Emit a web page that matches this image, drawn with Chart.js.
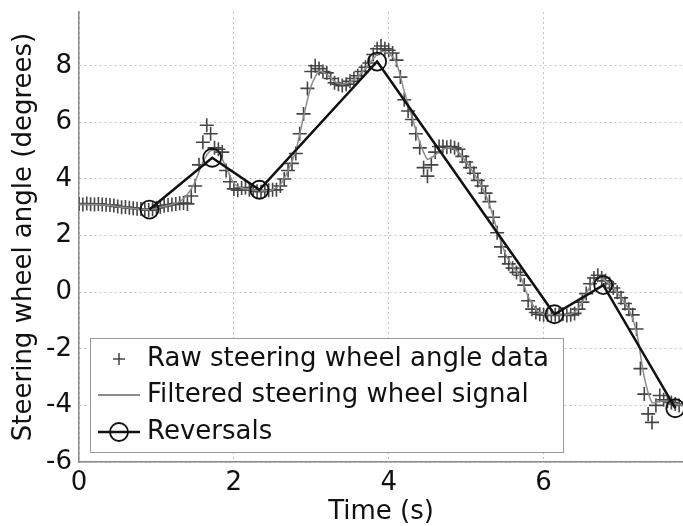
<!DOCTYPE html>
<html><head><meta charset="utf-8">
<script src="https://cdn.jsdelivr.net/npm/chart.js@4.4.0/dist/chart.umd.min.js"></script>
<style>html,body{margin:0;padding:0;background:#fff;overflow:hidden}</style>
</head><body>
<canvas id="c" width="683" height="526" style="display:block;width:683px;height:526px"></canvas>
<script>
const seriesLabels = ['Raw steering wheel angle data', 'Filtered steering wheel signal', 'Reversals'];
const xTitle = 'Time (s)';
const yTitle = 'Steering wheel angle (degrees)';
const xTicks = [0, 2, 4, 6];
const yTicks = [-6, -4, -2, 0, 2, 4, 6, 8];

const rawTime = [0,0.05,0.1,0.15,0.2,0.25,0.3,0.35,0.4,0.45,0.5,0.55,0.6,0.65,0.7,0.75,0.8,0.85,0.9,0.95,
  1.0,1.05,1.1,1.15,1.2,1.25,1.3,1.35,1.4,1.45,1.5,1.55,1.6,1.65,1.7,1.75,1.8,1.85,1.9,1.95,
  2.0,2.05,2.1,2.15,2.2,2.25,2.3,2.35,2.4,2.45,2.5,2.55,2.6,2.65,2.7,2.75,2.8,2.85,2.9,2.95,
  3.0,3.05,3.1,3.15,3.2,3.25,3.3,3.35,3.4,3.45,3.5,3.55,3.6,3.65,3.7,3.75,3.8,3.85,3.9,3.95,
  4.0,4.05,4.1,4.15,4.2,4.25,4.3,4.35,4.4,4.45,4.5,4.55,4.6,4.65,4.7,4.75,4.8,4.85,4.9,4.95,
  5.0,5.05,5.1,5.15,5.2,5.25,5.3,5.35,5.4,5.45,5.5,5.55,5.6,5.65,5.7,5.75,5.8,5.85,5.9,5.95,
  6.0,6.05,6.1,6.15,6.2,6.25,6.3,6.35,6.4,6.45,6.5,6.55,6.6,6.65,6.7,6.75,6.8,6.85,6.9,6.95,
  7.0,7.05,7.1,7.15,7.2,7.25,7.3,7.35,7.4,7.45,7.5,7.55,7.6,7.65,7.7,7.75];
const rawAngle = [3.12,3.10,3.13,3.11,3.10,3.12,3.10,3.09,3.08,3.06,3.03,3.00,3.01,2.98,2.97,2.95,2.94,2.92,2.90,2.93,
  2.98,3.02,3.05,3.08,3.10,3.12,3.14,3.15,3.12,3.40,3.75,4.50,5.30,5.90,5.60,5.10,5.05,4.95,4.30,3.90,
  3.65,3.60,3.68,3.70,3.62,3.60,3.57,3.55,3.58,3.60,3.62,3.62,3.75,4.00,4.30,4.55,4.90,5.60,6.30,7.20,
  7.80,8.00,7.90,7.80,7.75,7.55,7.40,7.35,7.30,7.35,7.45,7.55,7.65,7.80,7.95,8.10,8.40,8.60,8.70,8.60,
  8.55,8.45,8.20,7.60,6.80,6.40,6.10,5.60,5.10,4.40,4.10,4.50,4.95,5.15,5.15,5.12,5.15,5.10,5.05,4.80,
  4.60,4.40,4.20,3.95,3.75,3.50,3.20,2.65,2.10,1.60,1.25,1.00,0.85,0.70,0.60,0.25,-0.30,-0.60,-0.72,-0.78,
  -0.80,-0.80,-0.82,-0.80,-0.80,-0.78,-0.82,-0.80,-0.75,-0.60,-0.35,-0.05,0.30,0.50,0.60,0.50,0.40,0.30,0.15,0.00,
  -0.20,-0.40,-0.60,-0.80,-1.30,-2.70,-3.60,-4.30,-4.60,-4.00,-3.65,-3.80,-3.85,-3.90,-3.95,-4.00];

const filtTime = [0,0.1,0.2,0.3,0.4,0.5,0.6,0.7,0.8,0.9,1.0,1.1,1.2,1.3,1.4,1.5,1.6,1.7,1.8,1.9,
  2.0,2.1,2.2,2.3,2.4,2.5,2.6,2.7,2.8,2.9,3.0,3.1,3.2,3.3,3.4,3.5,3.6,3.7,3.8,3.9,
  4.0,4.1,4.2,4.3,4.4,4.5,4.6,4.7,4.8,4.9,5.0,5.1,5.2,5.3,5.4,5.5,5.6,5.7,5.8,5.9,
  6.0,6.1,6.2,6.3,6.4,6.5,6.6,6.7,6.8,6.9,7.0,7.1,7.2,7.3,7.4,7.5,7.6,7.7,7.8];
const filtAngle = [3.10,3.10,3.10,3.09,3.07,3.02,2.99,2.96,2.93,2.92,2.96,3.04,3.10,3.20,3.45,3.90,4.60,5.00,4.95,4.40,
  3.85,3.68,3.63,3.60,3.58,3.62,3.80,4.30,5.00,6.20,7.30,7.80,7.70,7.45,7.35,7.42,7.62,7.90,8.25,8.50,
  8.45,8.10,7.10,6.20,5.30,4.70,4.85,5.05,5.10,4.95,4.60,4.20,3.75,3.10,2.20,1.40,0.90,0.55,-0.15,-0.60,
  -0.78,-0.80,-0.80,-0.80,-0.70,-0.35,0.20,0.50,0.40,0.15,-0.20,-0.60,-1.40,-3.00,-3.90,-3.85,-3.85,-3.95,-4.00];

const revTime = [0.91, 1.72, 2.33, 3.85, 6.14, 6.77, 7.70];
const revAngle = [2.92, 4.75, 3.62, 8.15, -0.78, 0.25, -4.10];

const FONT = 'DejaVu Sans';
Chart.defaults.font.family = FONT;
Chart.defaults.color = '#111';

const toPts = (xs, ys) => xs.map((x, i) => ({x: x, y: ys[i]}));

const legendPlugin = {
  id: 'boxLegend',
  afterDraw(chart) {
    const ctx = chart.ctx;
    const ds = chart.data.datasets;
    const bx = 90, by = 338, bw = 473, bh = 114;
    ctx.save();
    ctx.fillStyle = '#fff';
    ctx.fillRect(bx, by, bw, bh);
    ctx.strokeStyle = '#9a9a9a';
    ctx.lineWidth = 1;
    ctx.strokeRect(bx + 0.5, by + 0.5, bw, bh);
    const rows = [359, 395, 432];
    const sx0 = 98, sx1 = 140, cx = 119, tx = 147;
    ctx.strokeStyle = ds[0].pointBorderColor; ctx.lineWidth = 1.5;
    ctx.beginPath(); ctx.moveTo(cx - 6, rows[0]); ctx.lineTo(cx + 6, rows[0]);
    ctx.moveTo(cx, rows[0] - 6); ctx.lineTo(cx, rows[0] + 6); ctx.stroke();
    ctx.strokeStyle = ds[1].borderColor; ctx.lineWidth = 2;
    ctx.beginPath(); ctx.moveTo(sx0, rows[1]); ctx.lineTo(sx1, rows[1]); ctx.stroke();
    ctx.strokeStyle = ds[2].borderColor; ctx.lineWidth = 2.5;
    ctx.beginPath(); ctx.moveTo(sx0, rows[2]); ctx.lineTo(sx1, rows[2]); ctx.stroke();
    ctx.lineWidth = 1.8;
    ctx.beginPath(); ctx.arc(cx, rows[2], 9, 0, Math.PI * 2); ctx.stroke();
    ctx.fillStyle = '#111';
    ctx.font = '26px "' + FONT + '"';
    ctx.textBaseline = 'middle';
    ctx.textAlign = 'left';
    ds.forEach((d, i) => ctx.fillText(d.label, tx, rows[i]));
    ctx.restore();
  }
};

new Chart(document.getElementById('c'), {
  type: 'scatter',
  data: {
    datasets: [
      {
        label: seriesLabels[0],
        data: toPts(rawTime, rawAngle),
        showLine: false,
        pointStyle: 'cross',
        pointRadius: 7,
        pointBorderColor: '#444',
        pointBorderWidth: 1.6,
        order: 2
      },
      {
        label: seriesLabels[1],
        data: toPts(filtTime, filtAngle),
        showLine: true,
        pointRadius: 0,
        borderColor: '#8c8c8c',
        borderWidth: 1.5,
        tension: 0.25,
        order: 1
      },
      {
        label: seriesLabels[2],
        data: toPts(revTime, revAngle),
        showLine: true,
        borderColor: '#111',
        borderWidth: 2.5,
        pointStyle: 'circle',
        pointRadius: 9,
        pointBackgroundColor: 'rgba(0,0,0,0)',
        pointBorderColor: '#111',
        pointBorderWidth: 1.8,
        order: 0
      }
    ]
  },
  options: {
    responsive: false,
    animation: false,
    devicePixelRatio: 1,
    layout: {autoPadding: false, padding: {top: 12, right: 0, left: 0, bottom: 0}},
    plugins: {legend: {display: false}, tooltip: {enabled: false}},
    scales: {
      x: {
        type: 'linear', min: 0, max: 7.8,
        afterBuildTicks: s => { s.ticks = xTicks.map(v => ({value: v})); },
        afterFit: s => { s.height = 64; s.paddingLeft = 0; s.paddingRight = 0; s.paddingTop = 0; s.paddingBottom = 0; },
        grid: {color: '#c4c4c4', lineWidth: 1, drawTicks: false},
        border: {display: true, color: '#8a8a8a', width: 1.5, dash: [2, 3]},
        ticks: {font: {size: 26}, color: '#111', padding: 6, maxRotation: 0},
        title: {display: true, text: xTitle, font: {size: 26, lineHeight: 1}, color: '#111', padding: {top: 0, bottom: 1}}
      },
      y: {
        type: 'linear', min: -6, max: 9.9,
        afterBuildTicks: s => { s.ticks = yTicks.map(v => ({value: v})); },
        afterFit: s => { s.width = 79; s.paddingLeft = 0; s.paddingRight = 0; s.paddingTop = 0; s.paddingBottom = 0; },
        grid: {color: '#c4c4c4', lineWidth: 1, drawTicks: false},
        border: {display: true, color: '#8a8a8a', width: 1.5, dash: [2, 3]},
        ticks: {font: {size: 26}, color: '#111', padding: 7},
        title: {display: true, text: yTitle, font: {size: 26}, color: '#111', padding: {top: 9, bottom: 0}}
      }
    }
  },
  plugins: [legendPlugin]
});
</script>
</body></html>
